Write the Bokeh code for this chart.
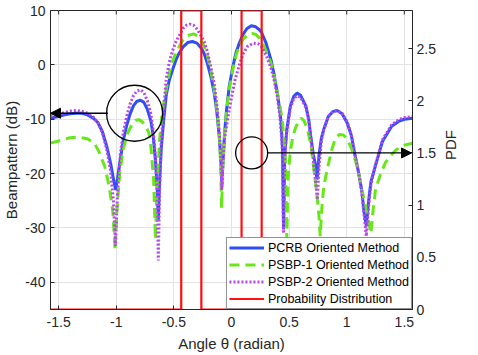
import math
from bokeh.plotting import figure
from bokeh.models import (Range1d, LinearAxis, FixedTicker, Legend, LegendItem,
                          Arrow, NormalHead)
from bokeh.embed import file_html
from bokeh.resources import INLINE

FONT = "Liberation Sans"

# ---------------- data ----------------
X_TICKS = [-1.5, -1, -0.5, 0, 0.5, 1, 1.5]
X_TICK_LABELS = ["-1.5", "-1", "-0.5", "0", "0.5", "1", "1.5"]
DB_TICKS = [-40, -30, -20, -10, 0, 10]
DB_TICK_LABELS = ["-40", "-30", "-20", "-10", "0", "10"]
PDF_TICKS = [0, 0.5, 1, 1.5, 2, 2.5]
PDF_TICK_LABELS = ["0", "0.5", "1", "1.5", "2", "2.5"]

THETA_PCRB = [-1.5708, -1.50, -1.45, -1.40, -1.35, -1.30, -1.25, -1.20, -1.16, -1.12, -1.08, -1.05,
              -1.02, -1.005, -0.99, -0.965, -0.94, -0.91, -0.88, -0.85, -0.82, -0.79, -0.76, -0.73,
              -0.70, -0.68, -0.66, -0.645, -0.635, -0.625, -0.61, -0.59, -0.566, -0.54, -0.51, -0.48,
              -0.456, -0.42, -0.38, -0.34, -0.30, -0.26, -0.236, -0.21, -0.18, -0.15, -0.126, -0.105,
              -0.09, -0.084, -0.075, -0.06, -0.043, -0.02, 0.012, 0.04, 0.068, 0.10, 0.135, 0.172,
              0.21, 0.24, 0.26, 0.30, 0.343, 0.37, 0.398, 0.42, 0.43, 0.443, 0.452, 0.462, 0.48,
              0.51, 0.54, 0.569, 0.60, 0.646, 0.67, 0.687, 0.71, 0.725, 0.742, 0.76, 0.78, 0.80,
              0.84, 0.88, 0.916, 0.96, 1.004, 1.04, 1.073, 1.10, 1.13, 1.15, 1.17, 1.19, 1.21,
              1.25, 1.31, 1.39, 1.45, 1.50, 1.5708]
DB_PCRB = [-9.8, -9.5, -9.2, -9.0, -8.9, -8.9, -9.2, -9.8, -10.6, -12.3, -15.2, -18.0,
           -21.5, -23.0, -21.0, -17.4, -14.0, -11.2, -9.0, -7.5, -6.7, -6.5, -6.9, -8.2,
           -10.3, -13.0, -17.5, -22.5, -28.5, -22.0, -15.5, -10.5, -5.5, -2.8, -0.8, 1.0,
           2.1, 3.3, 4.1, 4.3, 4.0, 3.0, 2.0, 0.3, -2.1, -5.2, -8.9, -13.5,
           -18.5, -21.7, -18.0, -12.5, -8.3, -4.0, -0.3, 2.3, 4.0, 5.6, 6.7, 7.2,
           7.0, 6.5, 6.0, 4.0, 0.9, -1.8, -5.2, -8.5, -10.5, -15.5, -30.3, -16.5, -11.9,
           -7.6, -5.8, -5.2, -5.6, -7.6, -10.0, -13.0, -16.5, -18.0, -21.1, -16.5, -13.5, -11.9,
           -9.5, -8.6, -8.4, -9.0, -10.7, -13.0, -16.8, -19.5, -23.0, -27.0, -29.6, -25.0, -21.5,
           -18.5, -14.1, -11.3, -10.4, -10.0, -9.8]

THETA_PSBP1 = [-1.5708, -1.50, -1.45, -1.40, -1.33, -1.25, -1.19, -1.15, -1.10, -1.06, -1.03,
               -1.01, -0.995, -0.97, -0.94, -0.90, -0.86, -0.83, -0.80, -0.77, -0.74, -0.717,
               -0.70, -0.676, -0.66, -0.645, -0.625, -0.60, -0.566, -0.54, -0.51, -0.48, -0.456,
               -0.42, -0.38, -0.33, -0.29, -0.26, -0.236, -0.21, -0.18, -0.15, -0.126, -0.105,
               -0.095, -0.086, -0.075, -0.06, -0.043, -0.02, 0.012, 0.04, 0.068, 0.10, 0.14,
               0.178, 0.21, 0.24, 0.27, 0.30, 0.343, 0.37, 0.398, 0.42, 0.44, 0.46, 0.47, 0.48,
               0.49, 0.51, 0.53, 0.55, 0.58, 0.605, 0.63, 0.66, 0.69, 0.715, 0.74, 0.76, 0.77,
               0.785, 0.80, 0.825, 0.866, 0.90, 0.935, 0.97, 1.0, 1.04, 1.073, 1.10, 1.13,
               1.17, 1.21, 1.23, 1.25, 1.29, 1.335, 1.38, 1.43, 1.50, 1.5708]
DB_PSBP1 = [-14.4, -14.0, -13.7, -13.4, -13.3, -13.6, -14.4, -16.0, -18.7, -22.5, -27.0,
            -34.0, -27.0, -20.0, -15.5, -12.5, -10.8, -10.2, -10.1, -10.6, -11.5, -12.5,
            -15.0, -21.0, -32.0, -22.0, -14.0, -8.5, -4.5, -1.5, 0.7, 2.3, 3.3,
            4.6, 5.4, 5.7, 5.3, 4.3, 3.4, 1.8, -1.0, -4.5, -8.3, -13.0,
            -18.0, -26.3, -19.0, -12.8, -8.5, -4.5, -0.8, 1.8, 3.4, 4.7, 5.5,
            5.8, 5.6, 5.0, 3.9, 2.6, 0.3, -2.2, -5.2, -7.5, -10.1, -14.5, -19.0, -32.0,
            -21.0, -16.0, -13.5, -11.9, -10.4, -9.8, -10.3, -11.9, -14.8, -19.3, -23.5, -28.0, -31.5,
            -26.0, -22.5, -19.8, -15.9, -13.6, -12.8, -12.9, -13.5, -15.3, -17.4, -19.5, -22.9,
            -26.5, -31.0, -26.5, -22.9, -20.3, -18.0, -16.7, -15.6, -14.8, -14.4]

THETA_PSBP2 = [-1.5708, -1.50, -1.45, -1.40, -1.35, -1.30, -1.25, -1.20, -1.16, -1.12, -1.08, -1.05,
               -1.025, -1.007, -0.99, -0.965, -0.94, -0.91, -0.88, -0.85, -0.82, -0.79, -0.76,
               -0.73, -0.70, -0.68, -0.66, -0.645, -0.635, -0.625, -0.61, -0.59, -0.566, -0.54,
               -0.51, -0.48, -0.456, -0.42, -0.39, -0.36, -0.33, -0.30, -0.26, -0.236, -0.21,
               -0.18, -0.15, -0.126, -0.105, -0.09, -0.084, -0.075, -0.06, -0.03, 0.0, 0.03,
               0.068, 0.10, 0.14, 0.19, 0.23, 0.26, 0.30, 0.343, 0.37, 0.398, 0.42, 0.44, 0.452,
               0.462, 0.48, 0.51, 0.54, 0.569, 0.60, 0.646, 0.67, 0.687, 0.71, 0.73, 0.745, 0.76,
               0.78, 0.80, 0.84, 0.88, 0.916, 0.96, 1.004, 1.04, 1.073, 1.10, 1.13, 1.15, 1.17,
               1.19, 1.21, 1.25, 1.31, 1.39, 1.45, 1.50, 1.5708]
DB_PSBP2 = [-9.4, -9.1, -8.8, -8.5, -8.4, -8.5, -8.9, -9.6, -10.6, -12.5, -15.8, -19.5,
            -25.0, -33.3, -24.0, -16.5, -12.5, -9.5, -7.2, -5.6, -4.8, -4.6, -5.1,
            -6.6, -9.0, -12.0, -17.0, -24.0, -36.0, -24.0, -14.0, -8.5, -2.5, 0.5,
            2.7, 4.4, 5.3, 6.7, 7.3, 7.5, 7.3, 6.6, 5.2, 4.2, 2.5,
            -0.3, -3.5, -7.6, -12.5, -18.0, -23.0, -18.0, -13.5, -9.5, -6.0, -2.8,
            0.0, 2.0, 3.4, 4.0, 3.9, 3.4, 1.8, -0.6, -2.8, -5.8, -9.5, -15.0, -31.0,
            -17.0, -12.3, -8.0, -6.2, -5.7, -6.0, -7.9, -10.3, -13.5, -17.5, -21.5, -24.8, -18.5,
            -14.0, -12.0, -9.5, -8.6, -8.4, -8.9, -10.5, -12.8, -16.5, -19.5, -23.5, -27.5, -31.5,
            -26.0, -22.0, -18.3, -13.8, -11.0, -10.1, -9.7, -9.5]

DIST_THETA = [-1.5708, -0.4363, -0.4363, -0.2618, -0.2618, 0.0873, 0.0873, 0.2618, 0.2618, 1.5708]
DIST_PDF = [0, 0, 2.865, 2.865, 0, 0, 2.865, 2.865, 0, 0]

SERIES_NAMES = ["PCRB Oriented Method", "PSBP-1 Oriented Method",
                "PSBP-2 Oriented Method", "Probability Distribution"]

# ---------------- figure ----------------
p = figure(width=470, height=354, output_backend="svg", toolbar_location=None,
           x_range=Range1d(-1.5708, 1.5708), y_range=Range1d(-45, 10),
           min_border_left=40, min_border_right=46, min_border_top=10, min_border_bottom=40)
p.extra_y_ranges = {"pdf": Range1d(0, 2.865)}
p.background_fill_color = "white"
p.border_fill_color = "white"
p.outline_line_color = "#262626"
p.outline_line_width = 1

AX_COL = "#262626"

def style_axis(ax):
    ax.major_tick_in = 4
    ax.major_tick_out = 0
    ax.minor_tick_line_color = None
    ax.axis_line_color = AX_COL
    ax.major_tick_line_color = AX_COL
    ax.major_label_text_font = FONT
    ax.major_label_text_font_size = "14px"
    ax.major_label_text_color = AX_COL
    ax.axis_label_text_font = FONT
    ax.axis_label_text_font_size = "15px"
    ax.axis_label_text_font_style = "normal"
    ax.axis_label_text_color = AX_COL

xa = p.xaxis[0]
xa.ticker = FixedTicker(ticks=X_TICKS)
xa.major_label_overrides = dict(zip(X_TICKS, X_TICK_LABELS))
xa.axis_label = "Angle θ (radian)"
style_axis(xa)
xa.major_label_standoff = 7
xa.axis_label_standoff = 5

ya = p.yaxis[0]
ya.ticker = FixedTicker(ticks=DB_TICKS)
ya.major_label_overrides = dict(zip(DB_TICKS, DB_TICK_LABELS))
ya.axis_label = "Beampattern (dB)"
style_axis(ya)
ya.major_label_standoff = 5
ya.axis_label_standoff = 2

ra = LinearAxis(y_range_name="pdf", ticker=FixedTicker(ticks=PDF_TICKS),
                major_label_overrides=dict(zip(PDF_TICKS, PDF_TICK_LABELS)),
                axis_label="PDF")
style_axis(ra)
ra.major_label_standoff = 4
ra.axis_label_standoff = 12
ra.axis_label_text_line_height = 0.8
ra.axis_label_orientation = math.pi / 2
p.add_layout(ra, "right")

p.xgrid.ticker = FixedTicker(ticks=X_TICKS)
p.ygrid.ticker = FixedTicker(ticks=DB_TICKS)
p.grid.grid_line_color = "#e3e3e3"
p.grid.grid_line_width = 1

# inward tick marks along the top edge (box on)
p.segment(x0=X_TICKS, y0=[10] * len(X_TICKS), x1=X_TICKS, y1=[9.27] * len(X_TICKS),
          line_color=AX_COL, line_width=1)

r1 = p.line(THETA_PCRB, DB_PCRB, line_color="#2f4ff5", line_width=3)
r2 = p.line(THETA_PSBP1, DB_PSBP1, line_color="#66e817", line_width=3, line_dash="10 6")
r3 = p.line(THETA_PSBP2, DB_PSBP2, line_color="#b646ee", line_width=3, line_dash="2 2")
r4 = p.line(DIST_THETA, DIST_PDF, y_range_name="pdf", line_color="#ff1010", line_width=2.2)

# annotations: circles and arrows
p.scatter([-0.841], [-8.9], marker="circle", size=56, fill_color=None,
          line_color="black", line_width=1.3)
p.scatter([0.175], [1.5], y_range_name="pdf", marker="circle", size=32, fill_color=None,
          line_color="black", line_width=1.3)
p.add_layout(Arrow(end=NormalHead(size=10, fill_color="black", line_color="black"),
                   x_start=-1.072, y_start=-8.9, x_end=-1.5708, y_end=-8.9,
                   line_color="black", line_width=1.3))
p.add_layout(Arrow(end=NormalHead(size=10, fill_color="black", line_color="black"),
                   x_start=0.307, y_start=1.5, x_end=1.562, y_end=1.5, y_range_name="pdf",
                   line_color="black", line_width=1.3))

legend = Legend(items=[LegendItem(label=n, renderers=[r]) for n, r in
                       zip(SERIES_NAMES, [r1, r2, r3, r4])],
                location="bottom_right")
legend.margin = 0
legend.padding = 2
legend.spacing = 2
legend.glyph_width = 35
legend.glyph_height = 15
legend.label_height = 15
legend.label_standoff = 4
legend.label_text_font = FONT
legend.label_text_font_size = "12.5px"
legend.label_text_color = "black"
legend.border_line_color = AX_COL
legend.border_line_width = 1
legend.background_fill_color = "white"
legend.background_fill_alpha = 1
p.add_layout(legend)

open("out.html", "w").write(file_html(p, INLINE))
